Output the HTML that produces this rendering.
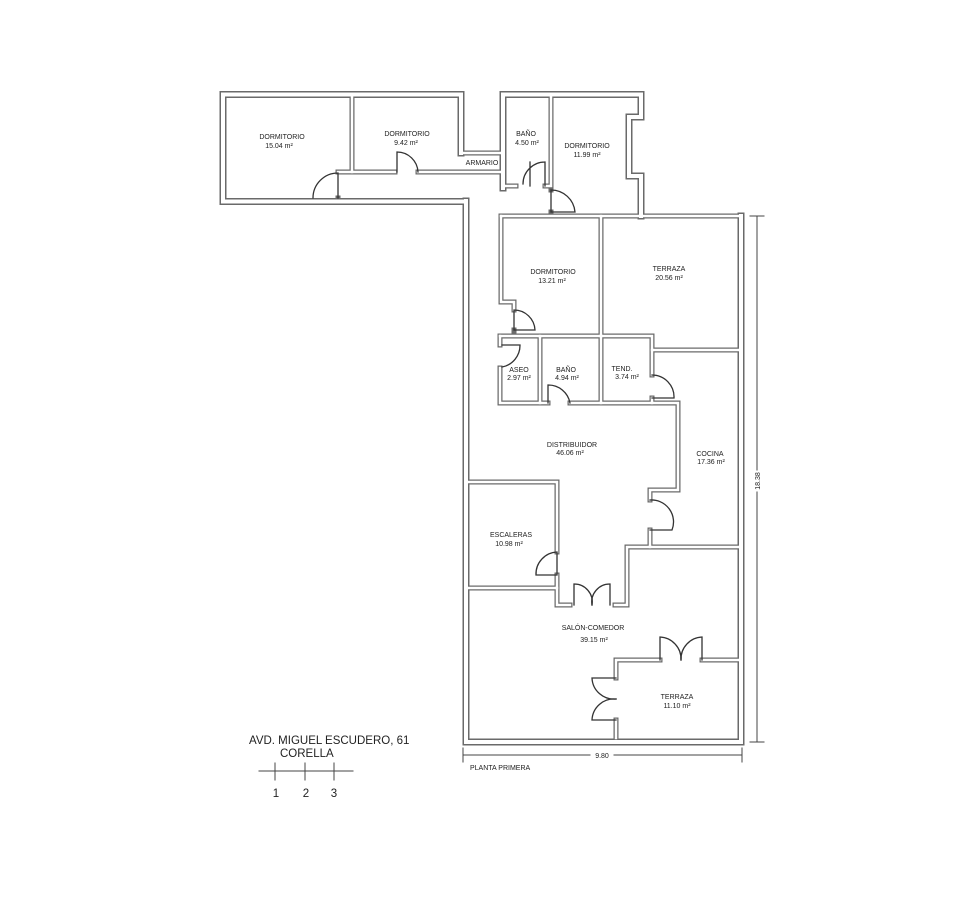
<!DOCTYPE html>
<html><head><meta charset="utf-8"><style>
html,body{margin:0;padding:0;background:#fff;}
svg{display:block;}
text{font-family:"Liberation Sans",sans-serif;fill:#222;}
</style></head><body>
<svg width="954" height="901" viewBox="0 0 954 901" xmlns="http://www.w3.org/2000/svg">
<g fill="none" stroke-linecap="square" stroke-linejoin="miter">
<!-- grey walls -->
<g stroke="#6a6a6a">
 <g stroke-width="7">
  <path d="M466,201 L466,742 L741,742 L741,216"/>
  <path d="M223,94.5 L461,94.5 L461,153"/>
  <path d="M223,94.5 L223,201.5 L466,201.5"/>
  <path d="M503,188 L503,94.5 L641,94.5 L641,117 L629,117 L629,176 L641,176 L641,216"/>
 </g>
 <g stroke-width="5">
  <path d="M501,216 L741,216"/>
  <path d="M352,97 L352,172"/>
  <path d="M338,172 L395,172 M418,172 L503,172"/>
  <path d="M338,198 L338,201"/>
  <path d="M461,153 L503,153"/>
  <path d="M503,186 L516,186 M545,186 L551,186 L551,97"/>
  <path d="M551,190 L551,190"/>
  <path d="M551,212 L551,216"/>
  <path d="M501,216 L501,302 L514,302 L514,310"/>
  <path d="M514,330 L514,336"/>
  <path d="M601,216 L601,403"/>
  <path d="M652,350 L741,350"/>
  <path d="M500,336 L652,336 L652,375"/>
  <path d="M500,336 L500,345 M500,368 L500,403 L548,403 M570,403 L652,403"/>
  <path d="M540,336 L540,403"/>
  <path d="M652,398 L652,403 L678,403 L678,490 L650,490 L650,500"/>
  <path d="M650,530 L650,547 L741,547"/>
  <path d="M650,547 L627,547 L627,605 L615,605"/>
  <path d="M468,482 L557,482 L557,552"/>
  <path d="M557,575 L557,605 L570,605"/>
  <path d="M468,588 L557,588"/>
  <path d="M616,738 L616,720"/>
  <path d="M616,678 L616,660 L660,660 M702,660 L741,660"/>
 </g>
</g>
<!-- white inner -->
<g stroke="#fff">
 <g stroke-width="4">
  <path d="M466,201 L466,742 L741,742 L741,216"/>
  <path d="M223,94.5 L461,94.5 L461,153"/>
  <path d="M223,94.5 L223,201.5 L466,201.5"/>
  <path d="M503,188 L503,94.5 L641,94.5 L641,117 L629,117 L629,176 L641,176 L641,216"/>
 </g>
 <g stroke-width="2.5">
  <path d="M501,216 L741,216"/>
  <path d="M352,97 L352,172"/>
  <path d="M338,172 L395,172 M418,172 L503,172"/>
  <path d="M461,153 L503,153"/>
  <path d="M503,186 L516,186 M545,186 L551,186 L551,97"/>
  <path d="M501,216 L501,302 L514,302 L514,310"/>
  <path d="M601,216 L601,403"/>
  <path d="M652,350 L741,350"/>
  <path d="M500,336 L652,336 L652,375"/>
  <path d="M500,336 L500,345 M500,368 L500,403 L548,403 M570,403 L652,403"/>
  <path d="M540,336 L540,403"/>
  <path d="M652,398 L652,403 L678,403 L678,490 L650,490 L650,500"/>
  <path d="M650,530 L650,547 L741,547"/>
  <path d="M650,547 L627,547 L627,605 L615,605"/>
  <path d="M468,482 L557,482 L557,552"/>
  <path d="M557,575 L557,605 L570,605"/>
  <path d="M468,588 L557,588"/>
  <path d="M616,738 L616,720"/>
  <path d="M616,678 L616,660 L660,660 M702,660 L741,660"/>
 </g>
</g>
<!-- doors -->
<g stroke="#333" stroke-width="1.3">
  <path d="M338,173 L338,198 M338,173 A25,25 0 0 0 313,198"/>
  <path d="M397,172 L397,152 A21,21 0 0 1 418,172"/>
  <path d="M530,186 L530,162 M545,162 L545,186 M545,162 A22,22 0 0 0 523,184"/>
  <path d="M551,190 L551,212 L575,212 A24,24 0 0 0 551,190"/>
  <path d="M514,310 L514,330 L535,330 A21,21 0 0 0 514,310"/>
  <path d="M502,345 L520,345 A22,22 0 0 1 502,367"/>
  <path d="M548,403 L548,385 A22,22 0 0 1 570,403"/>
  <path d="M652,375 A22,22 0 0 1 674,398 L652,398"/>
  <path d="M650,500 A22,22 0 0 1 672,530 L650,530"/>
  <path d="M557,552 L557,575 L536,575 A22,22 0 0 1 557,552"/>
  <path d="M574,605 L574,584 A18,18 0 0 1 592,605"/>
  <path d="M610,605 L610,584 A18,18 0 0 0 592,605"/>
  <path d="M660,660 L660,637 A22,22 0 0 1 681,660"/>
  <path d="M702,660 L702,637 A22,22 0 0 0 681,660"/>
  <path d="M616,678 L592,678 A22,22 0 0 0 616,699"/>
  <path d="M616,720 L592,720 A22,22 0 0 1 616,699"/>
</g>
<!-- dimensions -->
<g stroke="#444" stroke-width="1">
  <path d="M757,216 L757,470 M757,492 L757,742"/>
  <path d="M463,755 L590,755 M614,755 L742,755"/>
  <path d="M463,748 L463,762 M742,748 L742,762 M750,216 L764,216 M750,742 L764,742"/>
  <path d="M259,771 L353,771 M275,763 L275,780 M305,763 L305,780 M334,763 L334,780"/>
</g>
<g font-size="7" text-anchor="middle">
  <text x="282" y="139">DORMITORIO</text><text x="279" y="148">15.04 m²</text>
  <text x="407" y="136">DORMITORIO</text><text x="406" y="145">9.42 m²</text>
  <text x="482" y="165">ARMARIO</text>
  <text x="526" y="136">BAÑO</text><text x="527" y="145">4.50 m²</text>
  <text x="587" y="148">DORMITORIO</text><text x="587" y="157">11.99 m²</text>
  <text x="553" y="274">DORMITORIO</text><text x="552" y="283">13.21 m²</text>
  <text x="669" y="271">TERRAZA</text><text x="669" y="280">20.56 m²</text>
  <text x="519" y="372">ASEO</text><text x="519" y="380">2.97 m²</text>
  <text x="566" y="372">BAÑO</text><text x="567" y="380">4.94 m²</text>
  <text x="622" y="371">TEND.</text><text x="627" y="379">3.74 m²</text>
  <text x="572" y="447">DISTRIBUIDOR</text><text x="570" y="455">46.06 m²</text>
  <text x="710" y="456">COCINA</text><text x="711" y="464">17.36 m²</text>
  <text x="511" y="537">ESCALERAS</text><text x="509" y="546">10.98 m²</text>
  <text x="593" y="630">SALÓN-COMEDOR</text><text x="594" y="642">39.15 m²</text>
  <text x="677" y="699">TERRAZA</text><text x="677" y="708">11.10 m²</text>
  <text x="602" y="758">9.80</text>
  <text x="760" y="481" transform="rotate(-90 760 481)">18.38</text>
</g>
<text x="470" y="770" font-size="7">PLANTA PRIMERA</text>
<text x="249" y="744" font-size="11.5">AVD. MIGUEL ESCUDERO, 61</text>
<text x="280" y="757" font-size="11.5">CORELLA</text>
<g font-size="11.5" text-anchor="middle">
  <text x="276" y="797">1</text><text x="306" y="797">2</text><text x="334" y="797">3</text>
</g>
</svg>
</body></html>
